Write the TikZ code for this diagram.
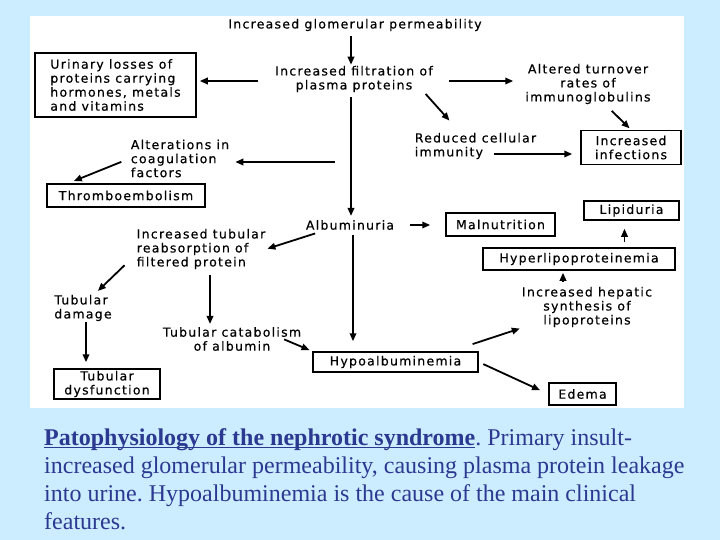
\documentclass[tikz,border=0pt]{standalone}
\usepackage{fontspec}
\setmainfont{Liberation Serif}
\newfontfamily\chartfont[LetterSpace=10, FakeBold=0.5]{DejaVu Sans}
\newsavebox{\ulbox}
\newcommand{\baseul}[1]{\sbox{\ulbox}{#1}\rlap{\rule[-3pt]{\wd\ulbox}{1.1pt}}\usebox{\ulbox}}
\usepackage{xcolor}
\definecolor{slidebg}{HTML}{CCECFF}
\definecolor{captionblue}{HTML}{2B3990}
\usetikzlibrary{arrows.meta, calc}

\begin{document}
\frenchspacing
\begin{tikzpicture}[x=1pt, y=-1pt, >={Triangle[length=8pt, width=6.5pt]},
  lbl/.style={font=\chartfont\fontsize{12.5}{14}\selectfont, inner sep=1pt},
  box/.style={lbl, draw, line width=1.5pt, fill=white, align=center, inner sep=0pt},
  arr/.style={->, line width=1.8pt}]

  % slide and white panel
  \useasboundingbox (0,0) rectangle (720,540);
  \fill[slidebg] (0,0) rectangle (720,540);
  \fill[white] (30,16) rectangle (684,408);

  % top chain
  \node[lbl] (perm) at (355,25) {Increased glomerular permeability};
  \node[lbl, align=center] (filt) at (354,79) {Increased filtration of\\plasma proteins};
  \node[box, align=left, minimum width=161pt, minimum height=64pt] (urin) at (115.5,85)
    {Urinary losses of\\proteins carrying\\hormones, metals\\and vitamins};
  \node[lbl, align=left] (coag) at (180,158.5) {Alterations in\\coagulation\\factors};
  \node[box, minimum width=158pt, minimum height=23pt] (throm) at (126,195.5) {Thromboembolism};
  \node[lbl, align=center] (immun) at (588,84) {Altered turnover\\rates of\\immunoglobulins};
  \node[lbl, align=left] (cell) at (475.5,146) {Reduced cellular\\immunity};
  \node[box, minimum width=100pt, minimum height=34pt] (infect) at (631,147.5) {Increased\\infections};

  % middle
  \node[lbl] (album) at (350,225) {Albuminuria};
  \node[box, minimum width=109pt, minimum height=23pt] (malnut) at (500.5,224.5) {Malnutrition};
  \node[box, minimum width=95pt, minimum height=19pt] (lipid) at (631.5,210.5) {Lipiduria};
  \node[box, minimum width=192pt, minimum height=22pt] (hyper) at (579,259) {Hyperlipoproteinemia};
  \node[lbl, align=center] (hepat) at (587,307) {Increased hepatic\\synthesis of\\lipoproteins};
  \node[box, minimum width=165pt, minimum height=20pt] (hypo) at (395.5,362) {Hypoalbuminemia};
  \node[box, minimum width=67pt, minimum height=22pt] (edema) at (582.5,394) {Edema};

  % tubular branch
  \node[lbl, align=left] (reabs) at (201,249) {Increased tubular\\reabsorption of\\filtered protein};
  \node[lbl, align=left] (damage) at (83,308) {Tubular\\damage};
  \node[box, minimum width=106pt, minimum height=30pt] (dysf) at (107,384) {Tubular\\dysfunction};
  \node[lbl, align=center] (catab) at (232,339) {Tubular catabolism\\of albumin};

  % helper points
  \coordinate (permout) at ([xshift=-4pt]perm.south);
  \coordinate (filtdown) at ([xshift=-3pt]filt.south);
  \coordinate (coagin) at ([yshift=-3.5pt]coag.east);
  \coordinate (filtleft) at ([yshift=-2pt]filt.west);
  \coordinate (filtright) at ([yshift=-2pt]filt.east);
  \coordinate (cellout) at ([shift={(-43pt,-8pt)}]cell.east);
  \coordinate (lipin) at ([xshift=-7pt]lipid.south);
  \coordinate (hepout) at ([xshift=-24pt]hepat.north);
  \coordinate (albdown) at ([xshift=3pt]album.south);
  \coordinate (dmgdown) at ([xshift=3pt]damage.south);
  \coordinate (reabsdown) at ([xshift=9pt]reabs.south);

  % arrows
  \draw[arr, shorten <=4pt] (permout) -- (permout |- filt.north);
  \draw[arr, shorten <=16pt, shorten >=3pt] (filtleft) -- (filtleft -| urin.east);
  \draw[arr, shorten <=4pt, shorten >=3pt] (filtdown) -- (filtdown |- album.north);
  \draw[arr, shorten <=16pt, shorten >=5pt] (coagin -| filtdown) -- (coagin);
  \draw[arr, shorten <=9pt, shorten >=6pt] (coag.west) -- ([xshift=22pt]throm.north west);
  \draw[arr, shorten <=15pt, shorten >=11pt] (filtright) -- (filtright -| immun.west);
  \draw[arr, shorten <=1pt, shorten >=15pt] ([xshift=-9pt]filt.south east) -- ([xshift=-16pt]cell.north);
  \draw[arr, shorten >=8pt] (cellout) -- (cellout -| infect.west);
  \draw[arr, shorten <=8pt, shorten >=2pt] ([xshift=18pt]immun.south) -- (infect.north);
  \draw[arr, shorten <=15pt, shorten >=15pt] (album.east) -- (album.east -| malnut.west);
  \draw[arr, shorten <=5pt, shorten >=8pt] (lipin |- hyper.north) -- (lipin);
  \draw[arr, shorten <=4pt, shorten >=2pt] (hepout) -- (hepout |- hyper.south);
  \draw[arr, shorten <=4pt, shorten >=10pt] (albdown) -- (albdown |- hypo.north);
  \draw[arr, shorten <=23pt, shorten >=1pt] ([xshift=-28pt]hypo.north east) -- (hepat.south west);
  \draw[arr, shorten <=5pt, shorten >=9pt] (hypo.east) -- (edema.west);
  \draw[arr, shorten <=8pt, shorten >=1pt] ([xshift=18pt]album.south west) -- (reabs.east);
  \draw[arr, shorten >=4pt] ([shift={(-11pt,5pt)}]reabs.south west) -- ([xshift=12pt]damage.north);
  \draw[arr, shorten >=6pt] (dmgdown) -- (dmgdown |- dysf.north);
  \draw[arr, shorten <=5pt, shorten >=2pt] (reabsdown) -- (reabsdown |- catab.north);
  \draw[arr, shorten <=1pt, shorten >=3pt] ([xshift=-19pt]catab.east) -- (hypo.north west);

  % caption
  \node[anchor=north west, align=left, inner sep=0pt, text=captionblue,
        font=\fontsize{24}{28}\selectfont] (caption) at (44,428)
    {\textbf{\baseul{Patophysiology of the nephrotic syndrome}}. Primary insult-\\
     increased glomerular permeability, causing plasma protein leakage\\
     into urine. Hypoalbuminemia is the cause of the main clinical\\
     features.};
\end{tikzpicture}
\end{document}
